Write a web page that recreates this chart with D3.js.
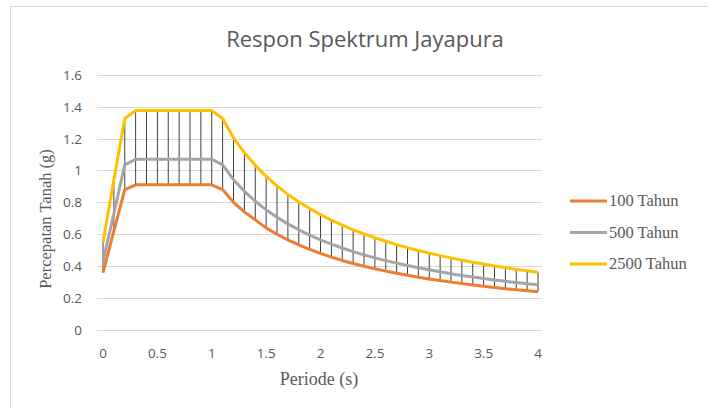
<!DOCTYPE html>
<html lang="en">
<head>
  <meta charset="UTF-8">
  <title>Respon Spektrum Jayapura</title>
  <script src="https://d3js.org/d3.v7.min.js"></script>
  <style>
    body { margin: 0; background: #fff; }
    .tick-label { font-family: "Open Sans", sans-serif; font-size: 13.5px; fill: #595959; }
    .axis-title { font-family: "Liberation Serif", serif; font-size: 18px; fill: #595959; }
    .legend-text { font-family: "Liberation Serif", serif; font-size: 16.5px; fill: #595959; }
  </style>
</head>
<body>
  <svg width="708" height="408"></svg>

  <script>
    // Periode (s)
    const periods = [0, 0.1, 0.2, 0.3, 0.4, 0.5, 0.6, 0.7, 0.8, 0.9, 1.0,
      1.1, 1.2, 1.3, 1.4, 1.5, 1.6, 1.7, 1.8, 1.9, 2.0,
      2.1, 2.2, 2.3, 2.4, 2.5, 2.6, 2.7, 2.8, 2.9, 3.0,
      3.1, 3.2, 3.3, 3.4, 3.5, 3.6, 3.7, 3.8, 3.9, 4.0];

    // Percepatan Tanah (g)
    const tahun100 = [0.36, 0.62, 0.88, 0.91, 0.91, 0.91, 0.91, 0.91, 0.91, 0.91, 0.91,
      0.88, 0.80, 0.74, 0.69, 0.64, 0.60, 0.565, 0.533, 0.505, 0.48,
      0.457, 0.436, 0.417, 0.40, 0.384, 0.369, 0.356, 0.343, 0.331, 0.32,
      0.31, 0.30, 0.291, 0.282, 0.274, 0.267, 0.259, 0.253, 0.246, 0.24];
    const tahun500 = [0.43, 0.73, 1.035, 1.07, 1.07, 1.07, 1.07, 1.07, 1.07, 1.07, 1.07,
      1.035, 0.942, 0.869, 0.807, 0.753, 0.706, 0.665, 0.628, 0.595, 0.565,
      0.538, 0.514, 0.491, 0.471, 0.452, 0.435, 0.419, 0.404, 0.39, 0.377,
      0.365, 0.353, 0.342, 0.332, 0.323, 0.314, 0.305, 0.297, 0.29, 0.283];
    const tahun2500 = [0.55, 0.94, 1.325, 1.375, 1.375, 1.375, 1.375, 1.375, 1.375, 1.375, 1.375,
      1.325, 1.204, 1.112, 1.032, 0.963, 0.903, 0.85, 0.803, 0.761, 0.723,
      0.688, 0.657, 0.628, 0.602, 0.578, 0.556, 0.535, 0.516, 0.498, 0.482,
      0.466, 0.452, 0.438, 0.425, 0.413, 0.401, 0.391, 0.38, 0.371, 0.361];

    const xTicks = [0, 0.5, 1, 1.5, 2, 2.5, 3, 3.5, 4];
    const yTicks = [0, 0.2, 0.4, 0.6, 0.8, 1, 1.2, 1.4, 1.6];

    const seriesNames = ["100 Tahun", "500 Tahun", "2500 Tahun"];
    const seriesValues = [tahun100, tahun500, tahun2500];
    const seriesColors = ["#ED7D31", "#A5A5A5", "#FFC000"];

    const svg = d3.select("svg");

    // chart area border (Excel style)
    svg.append("rect")
      .attr("x", 10.5).attr("y", 6.5)
      .attr("width", 760).attr("height", 460)
      .attr("fill", "#fff")
      .attr("stroke", "#d9d9d9");

    const x = d3.scaleLinear().domain([0, 4]).range([103, 538]);
    const y = d3.scaleLinear().domain([0, 1.6]).range([330, 74.7]);
    const gridLeft = 97, gridRight = 542;

    // title
    svg.append("text")
      .attr("x", 365).attr("y", 47)
      .attr("text-anchor", "middle")
      .style("font-family", "'Open Sans', sans-serif")
      .style("font-size", "22px")
      .style("fill", "#595959")
      .text("Respon Spektrum Jayapura");

    // gridlines
    svg.append("g").selectAll("line")
      .data(yTicks)
      .join("line")
      .attr("x1", gridLeft).attr("x2", gridRight)
      .attr("y1", d => Math.round(y(d)) + 0.5).attr("y2", d => Math.round(y(d)) + 0.5)
      .attr("stroke", "#d9d9d9")
      .attr("stroke-width", 1);

    // y tick labels
    svg.append("g").selectAll("text")
      .data(yTicks)
      .join("text")
      .attr("class", "tick-label")
      .attr("x", 82)
      .attr("y", d => y(d) + 5)
      .attr("text-anchor", "end")
      .text(d => d);

    // x tick labels
    svg.append("g").selectAll("text")
      .data(xTicks)
      .join("text")
      .attr("class", "tick-label")
      .attr("x", d => x(d))
      .attr("y", 358)
      .attr("text-anchor", "middle")
      .text(d => d);

    // axis titles
    svg.append("text")
      .attr("class", "axis-title")
      .attr("x", 319).attr("y", 385)
      .attr("text-anchor", "middle")
      .text("Periode (s)");

    svg.append("text")
      .attr("class", "axis-title")
      .style("font-size", "16.5px")
      .attr("transform", "translate(51,219) rotate(-90)")
      .attr("text-anchor", "middle")
      .text("Percepatan Tanah (g)");

    // high-low lines
    svg.append("g").selectAll("line")
      .data(periods.map((p, i) => ({
        p,
        hi: d3.max(seriesValues, s => s[i]),
        lo: d3.min(seriesValues, s => s[i])
      })))
      .join("line")
      .attr("x1", d => x(d.p)).attr("x2", d => x(d.p))
      .attr("y1", d => y(d.hi)).attr("y2", d => y(d.lo))
      .attr("stroke", "#404040")
      .attr("stroke-width", 1);

    // series lines
    const line = d3.line()
      .x((d, i) => x(periods[i]))
      .y(d => y(d));

    seriesValues.forEach((vals, k) => {
      svg.append("path")
        .datum(vals)
        .attr("d", line)
        .attr("fill", "none")
        .attr("stroke", seriesColors[k])
        .attr("stroke-width", 3)
        .attr("stroke-linejoin", "round");
    });

    // legend
    const legend = svg.append("g");
    seriesNames.forEach((name, k) => {
      const ly = 201 + k * 31.5;
      legend.append("line")
        .attr("x1", 570).attr("x2", 607)
        .attr("y1", ly).attr("y2", ly)
        .attr("stroke", seriesColors[k])
        .attr("stroke-width", 3);
      legend.append("text")
        .attr("class", "legend-text")
        .attr("x", 609).attr("y", ly + 5)
        .text(name);
    });
  </script>
</body>
</html>
